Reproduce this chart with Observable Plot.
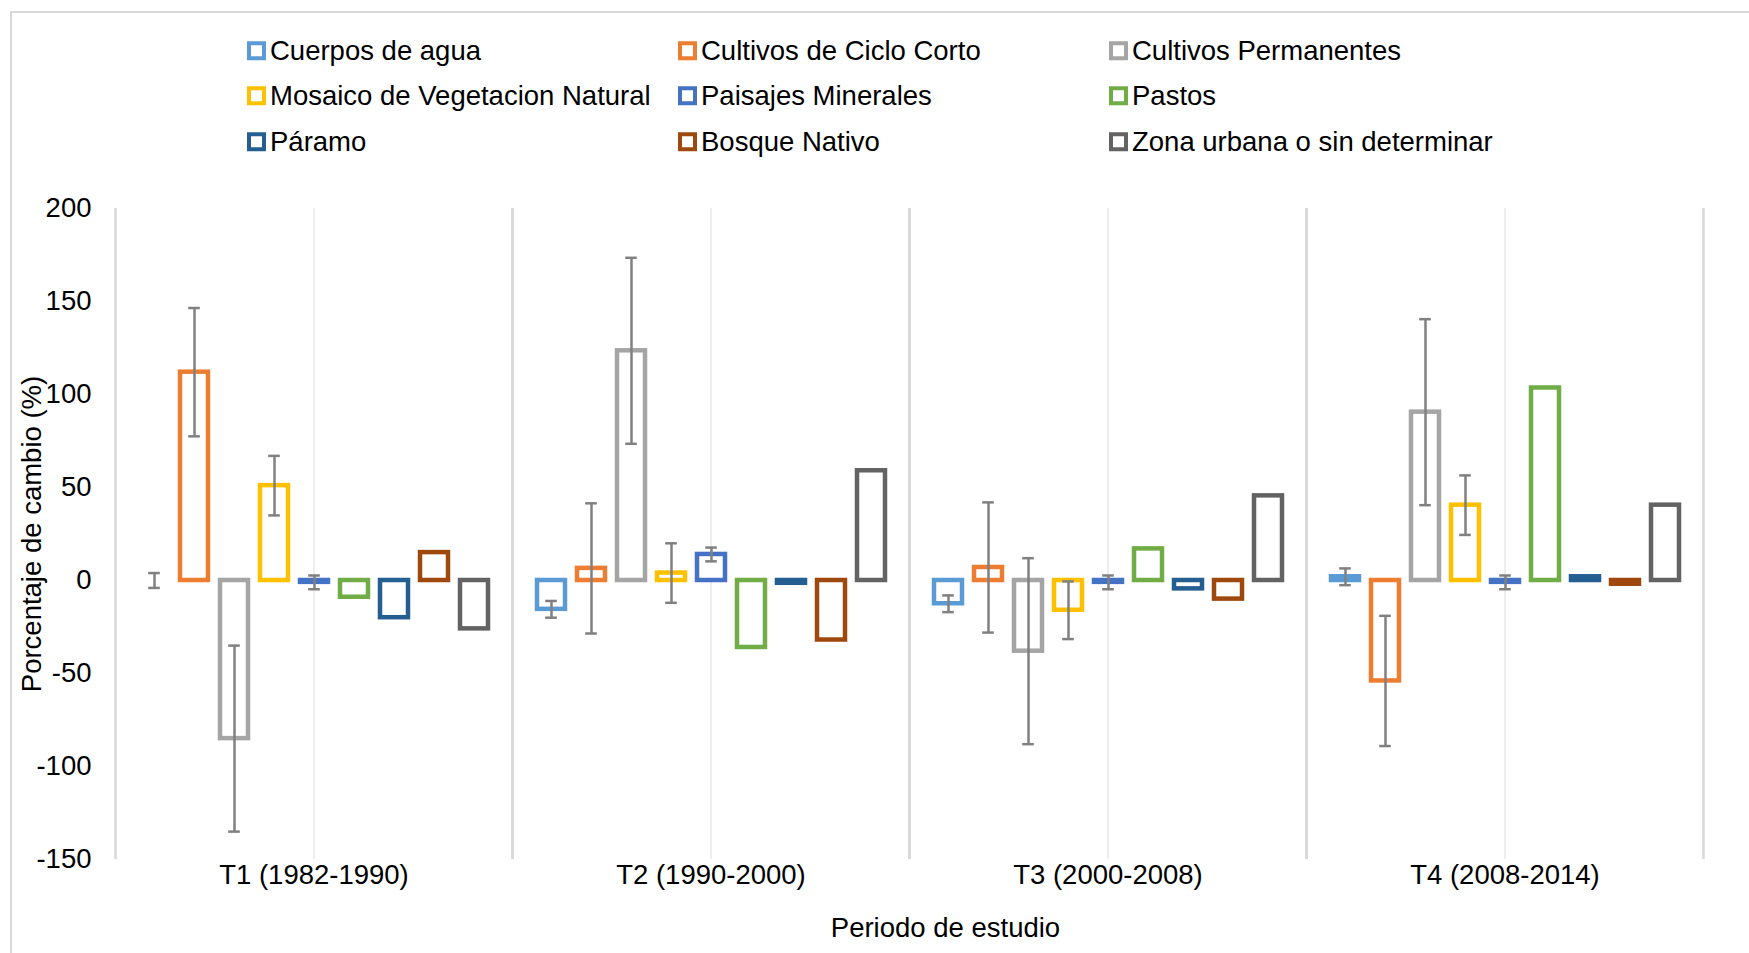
<!DOCTYPE html>
<html>
<head>
<meta charset="utf-8">
<script src="https://cdn.jsdelivr.net/npm/d3@7"></script>
<script src="https://cdn.jsdelivr.net/npm/@observablehq/plot@0.6"></script>
<style>
  body { margin: 0; background: #fff; font-family: "Liberation Sans", Arial, sans-serif; }
  #wrap { position: relative; width: 1749px; height: 953px; overflow: hidden; background: #fff; }
  #border { position: absolute; left: 10px; top: 11px; width: 1800px; height: 1000px; border: 2px solid #d9d9d9; z-index: 5; pointer-events: none; }
  .item { position: absolute; display: flex; align-items: center; font-size: 27.5px; color: #000; white-space: nowrap; transform: translateY(-50%); line-height: 1; }
  .sw { width: 11px; height: 11px; border: 4px solid; background: #fff; margin-right: 4px; box-sizing: content-box; flex: none; }
  #chart { position: absolute; left: 0; top: 170px; }
</style>
</head>
<body>
<div id="wrap">
  <div id="legend"></div>
  <div id="chart"></div>
  <div id="border"></div>
</div>
<script>
// ---- Data ----
const periods = ["T1 (1982-1990)", "T2 (1990-2000)", "T3 (2000-2008)", "T4 (2008-2014)"];
const series = [
  "Cuerpos de agua", "Cultivos de Ciclo Corto", "Cultivos Permanentes",
  "Mosaico de Vegetacion Natural", "Paisajes Minerales", "Pastos",
  "Páramo", "Bosque Nativo", "Zona urbana o sin determinar"
];
const colors = ["#5B9BD5", "#ED7D31", "#A5A5A5", "#FFC000", "#4472C4", "#70AD47", "#255E91", "#9E480E", "#636363"];

const valuesT1 = [0, 112, -85, 51, -1, -9, -20, 15, -26];
const valuesT2 = [-15.5, 6.5, 123.5, 4, 14, -36, -1.5, -32, 59];
const valuesT3 = [-12.5, 7, -38, -16, -1, 17, -4.5, -10, 45.5];
const valuesT4 = [2, -54, 90.5, 40.5, -1, 103.5, 2, -2, 40.5];

// error bars (only for first five series)
const errorsT1 = [4, 34.5, 50, 16, 3.7, null, null, null, null];
const errorsT2 = [4.5, 35, 50, 16, 3.7, null, null, null, null];
const errorsT3 = [4.5, 35, 50, 15.5, 3.7, null, null, null, null];
const errorsT4 = [4.5, 35, 50, 16, 3.7, null, null, null, null];

const yTicks = [-150, -100, -50, 0, 50, 100, 150, 200];

const allValues = [valuesT1, valuesT2, valuesT3, valuesT4];
const allErrors = [errorsT1, errorsT2, errorsT3, errorsT4];

const rows = [];
periods.forEach((p, i) => series.forEach((s, j) => rows.push({
  period: p, serie: s, value: allValues[i][j], err: allErrors[i][j]
})));

// ---- Legend ----
const legendCols = [247, 678, 1109];
const legendRows = [50.5, 96, 142];
const legend = document.getElementById("legend");
series.forEach((s, k) => {
  const it = document.createElement("div");
  it.className = "item";
  it.style.left = legendCols[k % 3] + "px";
  it.style.top = legendRows[Math.floor(k / 3)] + "px";
  const sw = document.createElement("span");
  sw.className = "sw";
  sw.style.borderColor = colors[k];
  const tx = document.createElement("span");
  tx.textContent = s;
  it.appendChild(sw); it.appendChild(tx);
  legend.appendChild(it);
});

// ---- Chart ----
const W = 1749, H = 783;
const mL = 115, mR = 46, mT = 38, mB = 94;
const facetW = (W - mL - mR) / periods.length;

const chart = Plot.plot({
  width: W, height: H,
  marginLeft: mL, marginRight: mR, marginTop: mT, marginBottom: mB,
  style: { fontFamily: "'Liberation Sans', Arial, sans-serif", fontSize: "27.5px", color: "#000", background: "none", overflow: "visible" },
  facet: { data: rows, x: "period" },
  fx: { domain: periods, padding: 0, tickSize: 0, tickPadding: 5, label: "Periodo de estudio", labelAnchor: "center", labelOffset: 77, labelArrow: "none" },
  x: { domain: series, axis: null, paddingInner: 0.3, paddingOuter: 0.61 },
  y: { domain: [-150, 200], ticks: yTicks, tickFormat: d => String(d), tickSize: 0, tickPadding: 24, label: "Porcentaje de cambio (%)", labelAnchor: "center", labelOffset: 94, labelArrow: "none" },
  color: { domain: series, range: colors },
  marks: [
    Plot.ruleX([0], { x: null, stroke: "#eeeeee", strokeWidth: 2 }),
    Plot.ruleX([0], { x: null, dx: -facetW / 2, stroke: "#d9d9d9", strokeWidth: 2.5 }),
    Plot.ruleX([0], { x: null, dx: facetW / 2, stroke: "#d9d9d9", strokeWidth: 2.5 }),
    Plot.barY(rows, { x: "serie", y: "value", fill: "white", stroke: "serie", strokeWidth: 4.5 }),
    Plot.ruleX(rows, { filter: d => d.err != null, x: "serie", y1: d => d.value - d.err, y2: d => d.value + d.err, stroke: "#808080", strokeWidth: 2.5 }),
    Plot.tickY(rows, { filter: d => d.err != null, x: "serie", y: d => d.value - d.err, stroke: "#808080", strokeWidth: 2.5, insetLeft: 8.2, insetRight: 8.2 }),
    Plot.tickY(rows, { filter: d => d.err != null, x: "serie", y: d => d.value + d.err, stroke: "#808080", strokeWidth: 2.5, insetLeft: 8.2, insetRight: 8.2 })
  ]
});
document.getElementById("chart").appendChild(chart);

// shift the x-axis title to the reference position
chart.querySelectorAll("text").forEach(t => {
  if (t.textContent.trim() === "Periodo de estudio") {
    t.setAttribute("transform", ((t.getAttribute("transform") || "") + " translate(36,0)").trim());
  }
});
</script>
</body>
</html>
